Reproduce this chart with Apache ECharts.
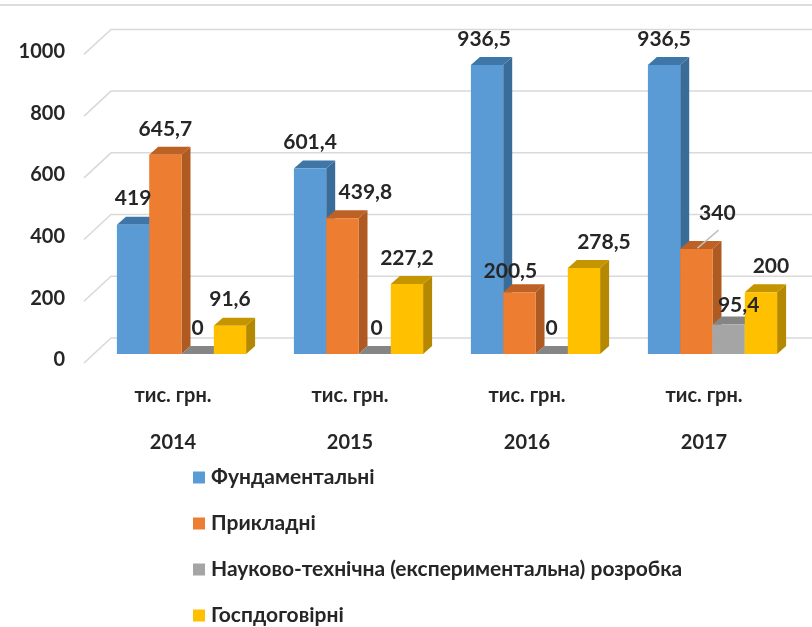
<!DOCTYPE html>
<html>
<head>
<meta charset="utf-8">
<style>
  html, body { margin: 0; padding: 0; background: #fff; }
  #chart { width: 812px; height: 627px; }
</style>
<script src="https://cdn.jsdelivr.net/npm/echarts@6/dist/echarts.min.js"></script>
</head>
<body>
<div id="chart"></div>
<script>
const years = ['2014', '2015', '2016', '2017'];
const unitLabel = 'тис. грн.';
const yTicks = [0, 200, 400, 600, 800, 1000];

const fundamental = [419, 601.4, 936.5, 936.5];
const applied = [645.7, 439.8, 200.5, 340];
const experimental = [0, 0, 0, 95.4];
const contract = [91.6, 227.2, 278.5, 200];

const SERIES = [
  { name: 'Фундаментальні', values: fundamental, front: '#5b9bd5', side: '#3a6c99', top: '#3f76a8' },
  { name: 'Прикладні', values: applied, front: '#ed7d31', side: '#ae5a21', top: '#bd6125' },
  { name: 'Науково-технічна (експериментальна) розробка', values: experimental, front: '#a5a5a5', side: '#7b7b7b', top: '#858585' },
  { name: 'Госпдоговірні', values: contract, front: '#ffc000', side: '#b48800', top: '#c59500' },
];

const FONT = 'Lato, "Noto Sans", sans-serif';
const TEXT_COLOR = '#262626';
const BAR_SHARE = 0.1825;
const DEPTH_X = 9;
const DEPTH_Y = 8;

// label nudges where the original has moved a label off its bar: "series-category"
const LABEL_SHIFT = {
  '1-1': [23, 0],
  '2-1': [2, 0],
  '0-2': [-3, 0],
  '1-2': [-9, 5],
  '3-2': [20, 0],
  '1-3': [21, -10],
  '2-3': [10, 7],
  '3-3': [10, 0],
};

const formatValue = (value) => String(value).replace('.', ',');

const renderBar = (seriesIndex) => (params, api) => {
  const categoryIndex = api.value(0);
  const value = api.value(1);
  const band = api.size([1, 0])[0];
  const barWidth = band * BAR_SHARE;
  const base = api.coord([categoryIndex, 0]);
  const tip = api.coord([categoryIndex, value]);
  const x0 = base[0] + (seriesIndex - 2) * barWidth;
  const x1 = x0 + barWidth;
  const yBase = base[1];
  const yTop = tip[1];
  const shift = LABEL_SHIFT[`${seriesIndex}-${categoryIndex}`] || [0, 0];
  const spec = SERIES[seriesIndex];
  const children = [
    {
      type: 'polygon',
      shape: { points: [[x1, yTop], [x1 + DEPTH_X, yTop - DEPTH_Y], [x1 + DEPTH_X, yBase - DEPTH_Y], [x1, yBase]] },
      style: { fill: spec.side },
    },
    {
      type: 'polygon',
      shape: { points: [[x0, yTop], [x0 + DEPTH_X, yTop - DEPTH_Y], [x1 + DEPTH_X, yTop - DEPTH_Y], [x1, yTop]] },
      style: { fill: spec.top },
    },
    {
      type: 'rect',
      shape: { x: x0, y: yTop, width: barWidth, height: yBase - yTop },
      style: { fill: spec.front },
    },
    {
      type: 'text',
      z2: 100,
      x: (x0 + x1) / 2 + shift[0],
      y: yTop - 26 + shift[1],
      style: {
        text: formatValue(value),
        fill: TEXT_COLOR,
        font: `bold 21px ${FONT}`,
        align: 'center',
        verticalAlign: 'middle',
      },
    },
  ];
  return { type: 'group', children };
};

// back-wall gridlines with the slanted piece on the left side wall
const renderGridline = (params, api) => {
  const rect = params.coordSys;
  const y = api.coord([0, api.value(0)])[1];
  const x = rect.x;
  return {
    type: 'polyline',
    shape: { points: [[x - 9, y + 9], [x + 18, y - 16], [812, y - 16]] },
    style: { fill: 'none', stroke: '#d9d9d9', lineWidth: 1.5 },
  };
};

// leader line for the 340 label
const renderLeader = (params, api) => {
  const p = api.coord([api.value(0), api.value(1)]);
  return {
    type: 'line',
    z2: 50,
    shape: { x1: p[0] - 15, y1: p[1] - 1, x2: p[0] + 6, y2: p[1] - 19 },
    style: { stroke: '#bfbfbf', lineWidth: 1.5 },
  };
};

const chart = echarts.init(document.getElementById('chart'));
chart.setOption({
  backgroundColor: '#ffffff',
  animation: false,
  graphic: [
    { type: 'line', shape: { x1: 0, y1: 5, x2: 812, y2: 5 }, style: { stroke: '#dcdcdc', lineWidth: 2 } },
  ],
  legend: {
    orient: 'vertical',
    left: 188,
    top: 462,
    height: 165,
    itemWidth: 12,
    itemHeight: 12,
    itemGap: 25,
    icon: 'rect',
    data: SERIES.map((s) => s.name),
    textStyle: { color: TEXT_COLOR, fontFamily: FONT, fontSize: 21, fontWeight: 'bold', padding: [0, 0, 0, 1] },
    selectedMode: false,
  },
  grid: { left: 93, right: 11, top: 45.4, bottom: 273 },
  xAxis: {
    type: 'category',
    data: years,
    axisLine: { show: false },
    axisTick: { show: false },
    axisLabel: {
      color: TEXT_COLOR,
      fontFamily: FONT,
      fontSize: 20,
      fontWeight: 'bold',
      lineHeight: 47,
      margin: 18,
      padding: [0, 17, 0, 0],
      formatter: (val) => `${unitLabel}\n${val}`,
    },
  },
  yAxis: {
    type: 'value',
    min: 0,
    max: 1000,
    interval: 200,
    axisLine: { show: false },
    axisTick: { show: false },
    splitLine: { show: false },
    axisLabel: {
      color: TEXT_COLOR,
      fontFamily: FONT,
      fontSize: 20,
      fontWeight: 'bold',
      margin: 28,
      verticalAlign: 'top',
      lineHeight: 12,
      formatter: (val) => String(val),
    },
  },
  series: [
    {
      type: 'custom',
      silent: true,
      clip: false,
      z: 1,
      data: yTicks.map((tick) => [tick]),
      encode: { y: 0 },
      renderItem: renderGridline,
    },
    ...SERIES.map((spec, seriesIndex) => ({
      name: spec.name,
      type: 'custom',
      clip: false,
      z: 2,
      itemStyle: { color: spec.front },
      data: spec.values.map((value, index) => [index, value]),
      encode: { x: 0, y: 1 },
      renderItem: renderBar(seriesIndex),
    })),
    {
      type: 'custom',
      silent: true,
      clip: false,
      z: 3,
      data: [[3, applied[3]]],
      encode: { x: 0, y: 1 },
      renderItem: renderLeader,
    },
  ],
});

window.addEventListener('resize', () => chart.resize());
</script>
</body>
</html>
